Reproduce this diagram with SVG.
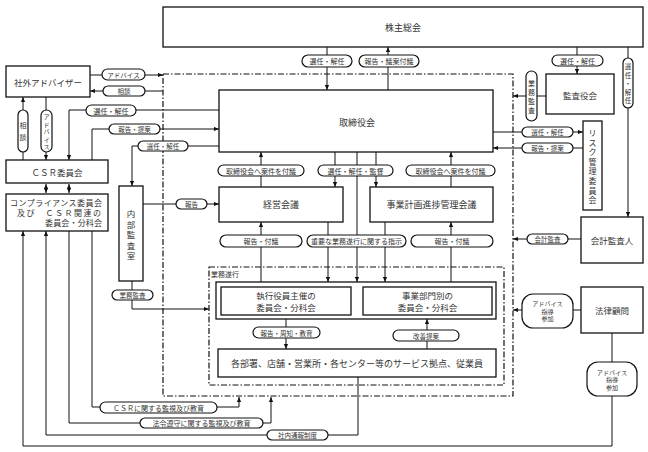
<svg xmlns="http://www.w3.org/2000/svg" width="648" height="452" viewBox="0 0 648 452">
<style>
.b{fill:#fff;stroke:#111;stroke-width:1.3}
.p{fill:#fff;stroke:#111;stroke-width:1.2}
.l{fill:none;stroke:#111;stroke-width:1}
.a{marker-end:url(#ah)}
.aa{marker-end:url(#ah);marker-start:url(#ah)}
.d{fill:none;stroke:#111;stroke-width:1.2;stroke-dasharray:6 2 1.5 2}
text{font-family:"Noto Sans CJK JP","Noto Sans CJK SC",sans-serif;fill:#333;dominant-baseline:central;text-anchor:middle}
.f9{font-size:9px}.f85{font-size:8.5px}.f8{font-size:8px}.f7{font-size:7px}.f65{font-size:6.5px}.f6{font-size:6.1px}
</style>
<defs>
<marker id="ah" viewBox="0 0 6 6" refX="6" refY="3" markerWidth="5" markerHeight="5" markerUnits="userSpaceOnUse" orient="auto-start-reverse"><path d="M0,0.5L6,3L0,5.5z" fill="#111"/></marker>
</defs>
<rect width="648" height="452" fill="#fff"/>
<g id="boundary">
<rect class="d" x="163" y="74" width="350" height="322"/>
</g>
<g id="connectors">
<path class="l a" d="M327,47V90"/>
<path class="l a" d="M388,90V47"/>
<path class="l a" d="M577,47V74"/>
<path class="l a" d="M628,47V217"/>
<path class="l a" d="M546,96H513"/>
<path class="l a" d="M493,132H583"/>
<path class="l a" d="M583,148H493"/>
<path class="l a" d="M581,239H513"/>
<path class="l a" d="M581,310H513"/>
<path class="l" d="M612,333V362"/>
<path class="l a" d="M90,75H163"/>
<path class="l a" d="M163,91H90"/>
<path class="l a" d="M23,160V97"/>
<path class="l a" d="M46,97V160"/>
<path class="l a" d="M219,110H69V160"/>
<path class="l a" d="M92,160V129H219"/>
<path class="l a" d="M219,146H132V186"/>
<path class="l a" d="M143,204H219"/>
<path class="l a" d="M132,281V309H209"/>
<path class="l a" d="M261,187V152"/>
<path class="l a" d="M335,152V187"/>
<path class="l a" d="M376,152V187"/>
<path class="l a" d="M451,187V152"/>
<path class="l a" d="M357,152V282"/>
<path class="l a" d="M261,282V222"/>
<path class="l a" d="M328,222V282"/>
<path class="l a" d="M385,222V282"/>
<path class="l a" d="M451,282V222"/>
<path class="l a" d="M286,319V349"/>
<path class="l a" d="M427,349V319"/>
<path class="l aa" d="M46,184V193"/>
<path class="l aa" d="M69,184V193"/>
<path class="l a" d="M92,231V407H239V397"/>
<path class="l a" d="M69,231V423H271V397"/>
<path class="l a" d="M358,377V435H46V231"/>
<path class="l a" d="M612,396V446H23V231"/>
</g>
<g id="labels">
<rect class="p" x="302" y="55" width="50" height="12" rx="6"/><text class="f7" x="327" y="61">選任・解任</text>
<rect class="p" x="359" y="55" width="60" height="12" rx="6"/><text class="f7" x="389" y="61">報告・議案付議</text>
<rect class="p" x="552" y="55" width="51" height="11" rx="5.5"/><text class="f7" x="577.5" y="60.5">選任・解任</text>
<rect class="p" x="623" y="58" width="10" height="50" rx="5"/>
<text class="f65" x="628"><tspan x="628" y="66">選</tspan><tspan x="628" y="74.5">任</tspan><tspan x="628" y="83">・</tspan><tspan x="628" y="91.5">解</tspan><tspan x="628" y="100">任</tspan></text>
<rect class="p" x="526" y="71" width="11" height="50" rx="5.5"/>
<text class="f7" x="531.5"><tspan x="531.5" y="82.5">業</tspan><tspan x="531.5" y="91.5">務</tspan><tspan x="531.5" y="100.5">監</tspan><tspan x="531.5" y="109.5">査</tspan></text>
<rect class="p" x="522" y="127" width="51" height="10" rx="5"/><text class="f65" x="547.5" y="132">選任・解任</text>
<rect class="p" x="522" y="143" width="51" height="10" rx="5"/><text class="f65" x="547.5" y="148">報告・提案</text>
<rect class="p" x="527" y="234" width="41" height="10" rx="5"/><text class="f65" x="547.5" y="239">会計監査</text>
<rect class="p" x="522" y="294" width="51" height="34" rx="11"/>
<text class="f6"><tspan x="547.5" y="303">アドバイス</tspan><tspan x="547.5" y="310.5">指導</tspan><tspan x="547.5" y="318">参加</tspan></text>
<rect class="p" x="587" y="362" width="50" height="34" rx="11"/>
<text class="f6"><tspan x="612" y="371.5">アドバイス</tspan><tspan x="612" y="379">指導</tspan><tspan x="612" y="386.5">参加</tspan></text>
<rect class="p" x="102" y="69" width="43" height="11" rx="5.5"/><text class="f65" x="123.5" y="74.5">アドバイス</text>
<rect class="p" x="103" y="86" width="42" height="10" rx="5"/><text class="f65" x="124" y="91">相談</text>
<rect class="p" x="18" y="110" width="10" height="42" rx="5"/>
<text class="f7"><tspan x="23" y="125">相</tspan><tspan x="23" y="137">談</tspan></text>
<rect class="p" x="41" y="110" width="11" height="42" rx="5.5"/>
<text class="f6"><tspan x="46.5" y="116">ア</tspan><tspan x="46.5" y="123.5">ド</tspan><tspan x="46.5" y="131">バ</tspan><tspan x="46.5" y="138.5">イ</tspan><tspan x="46.5" y="146">ス</tspan></text>
<rect class="p" x="86" y="105" width="50" height="11" rx="5.5"/><text class="f7" x="111" y="110.5">選任・解任</text>
<rect class="p" x="109" y="124" width="51" height="10" rx="5"/><text class="f65" x="134.5" y="129">報告・提案</text>
<rect class="p" x="138" y="141" width="50" height="10" rx="5"/><text class="f65" x="163" y="146">選任・解任</text>
<rect class="p" x="176" y="199" width="31" height="10" rx="5"/><text class="f65" x="191.5" y="204">報告</text>
<rect class="p" x="112" y="290" width="41" height="10" rx="5"/><text class="f65" x="132.5" y="295">業務監査</text>
<rect class="p" x="218" y="165" width="86" height="11" rx="5.5"/><text class="f7" x="261" y="170.5">取締役会へ案件を付議</text>
<rect class="p" x="318" y="165" width="75" height="11" rx="5.5"/><text class="f7" x="355.5" y="170.5">選任・解任・監督</text>
<rect class="p" x="406" y="165" width="89" height="11" rx="5.5"/><text class="f7" x="450.5" y="170.5">取締役会へ案件を付議</text>
<rect class="p" x="220" y="235" width="82" height="12" rx="6"/><text class="f7" x="261" y="241">報告・付議</text>
<rect class="p" x="307" y="235" width="99" height="12" rx="6"/><text class="f7" x="356.5" y="241">重要な業務遂行に関する指示</text>
<rect class="p" x="411" y="235" width="82" height="12" rx="6"/><text class="f7" x="452" y="241">報告・付議</text>
<rect class="p" x="253" y="327" width="67" height="11" rx="5.5"/><text class="f65" x="286.5" y="332.5">報告・周知・教育</text>
<rect class="p" x="393" y="330" width="66" height="11" rx="5.5"/><text class="f65" x="426" y="335.5">改善提案</text>
<rect class="p" x="100" y="402" width="117" height="11" rx="5.5"/><text class="f7" x="158.5" y="407.5">ＣＳＲに関する監視及び教育</text>
<rect class="p" x="140" y="418" width="123" height="10" rx="5"/><text class="f7" x="201.5" y="423">法令遵守に関する監視及び教育</text>
<rect class="p" x="267" y="430" width="61" height="10" rx="5"/><text class="f65" x="297.5" y="435">社内通報制度</text>
</g>
<g id="n-kabunushi"><rect class="b" x="163" y="7" width="480" height="40"/><text class="f9" x="403" y="27">株主総会</text></g>
<g id="n-torishimari"><rect class="b" x="219" y="90" width="274" height="62"/><text class="f9" x="357" y="122">取締役会</text></g>
<g id="n-kansayaku"><rect class="b" x="546" y="74" width="68" height="40"/><text class="f85" x="580" y="95">監査役会</text></g>
<g id="n-risk"><rect class="b" x="583" y="121" width="19" height="89"/>
<text class="f8"><tspan x="592.5" y="132">リ</tspan><tspan x="592.5" y="141.6">ス</tspan><tspan x="592.5" y="151.2">ク</tspan><tspan x="592.5" y="160.8">管</tspan><tspan x="592.5" y="170.4">理</tspan><tspan x="592.5" y="180">委</tspan><tspan x="592.5" y="189.6">員</tspan><tspan x="592.5" y="199.2">会</tspan></text></g>
<g id="n-kaikei"><rect class="b" x="581" y="217" width="62" height="46"/><text class="f85" x="612" y="240">会計監査人</text></g>
<g id="n-houritsu"><rect class="b" x="581" y="287" width="62" height="46"/><text class="f85" x="612" y="310">法律顧問</text></g>
<g id="n-shagai"><rect class="b" x="6" y="66" width="84" height="31"/><text class="f85" x="48" y="81.5">社外アドバイザー</text></g>
<g id="n-csr"><rect class="b" x="6" y="160" width="102" height="23"/><text class="f85" x="57" y="171.5">ＣＳＲ委員会</text></g>
<g id="n-compliance"><rect class="b" x="6" y="194" width="102" height="37"/>
<text class="f8" style="text-anchor:start" x="10" y="202.5" textLength="92" lengthAdjust="spacing">コンプライアンス委員会</text>
<text class="f8" style="text-anchor:start" x="17" y="212.5" textLength="84" lengthAdjust="spacing">及び　ＣＳＲ関連の</text>
<text class="f8" style="text-anchor:start" x="45" y="222.5" textLength="57" lengthAdjust="spacing">委員会・分科会</text></g>
<g id="n-naibu"><rect class="b" x="119" y="186" width="24" height="95"/>
<text class="f85"><tspan x="131" y="213">内</tspan><tspan x="131" y="223.5">部</tspan><tspan x="131" y="234">監</tspan><tspan x="131" y="244.5">査</tspan><tspan x="131" y="255">室</tspan></text></g>
<g id="n-keiei"><rect class="b" x="219" y="187" width="124" height="35"/><text class="f9" x="281" y="204.5">経営会議</text></g>
<g id="n-jigyokeikaku"><rect class="b" x="370" y="187" width="123" height="35"/><text class="f9" x="431.5" y="204.5">事業計画進捗管理会議</text></g>
<g id="n-gyomu">
<rect class="d" x="209" y="267" width="295" height="118"/>
<text class="f7" style="text-anchor:start" x="211" y="274">業務遂行</text>
<rect class="b" x="216" y="282" width="280" height="37"/>
</g>
<g id="n-shikkou"><rect class="b" x="221" y="287" width="130" height="28"/><text class="f85"><tspan x="286" y="295">執行役員主催の</tspan><tspan x="286" y="307">委員会・分科会</tspan></text></g>
<g id="n-jigyobumon"><rect class="b" x="363" y="287" width="129" height="28"/><text class="f85"><tspan x="427.5" y="295">事業部門別の</tspan><tspan x="427.5" y="307">委員会・分科会</tspan></text></g>
<g id="n-kakubusho"><rect class="b" x="218" y="349" width="278" height="28"/><text class="f9" x="357" y="363">各部署、店舗・営業所・各センター等のサービス拠点、従業員</text></g>
</svg>
